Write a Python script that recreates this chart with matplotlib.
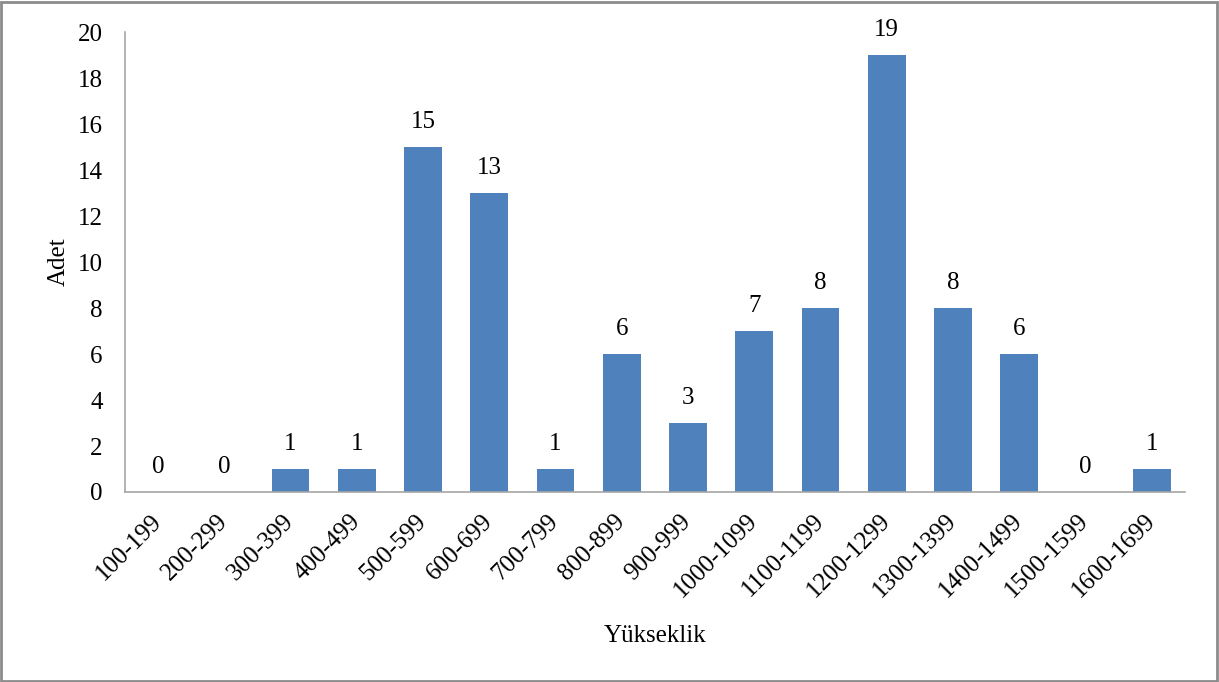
import numpy as np
import matplotlib.pyplot as plt
import matplotlib.transforms as mtransforms
from matplotlib.patches import Rectangle

categories = ['100-199', '200-299', '300-399', '400-499', '500-599', '600-699',
              '700-799', '800-899', '900-999', '1000-1099', '1100-1199',
              '1200-1299', '1300-1399', '1400-1499', '1500-1599', '1600-1699']
counts = [0, 0, 1, 1, 15, 13, 1, 6, 3, 7, 8, 19, 8, 6, 0, 1]

plt.rcParams['font.family'] = ['Liberation Serif', 'DejaVu Serif']
plt.rcParams['font.size'] = 18

fig = plt.figure(figsize=(12.19, 6.82), dpi=100)
ax = fig.add_axes([0.1025, 0.2786, 0.8695, 0.6744])

x = np.arange(len(categories))
bars = ax.bar(x, counts, width=0.57, color='#4F81BD')
ax.bar_label(bars, labels=[str(c) for c in counts], padding=10, fontsize=18)

ax.set_xlim(-0.5, len(categories) - 0.5)
ax.set_ylim(0, 20)
ax.set_yticks(np.arange(0, 21, 2))
ax.set_xticks(x)
ax.set_xticklabels(categories, rotation=45, ha='right', rotation_mode='anchor')
ax.tick_params(axis='both', length=0, labelsize=18)
ax.tick_params(axis='y', pad=16)
ax.tick_params(axis='x', pad=13)

# shift rotated labels so their upper end sits under the bar centre
shift = mtransforms.ScaledTranslation(-0.08, 0, fig.dpi_scale_trans)
for lbl in ax.get_xticklabels():
    lbl.set_transform(lbl.get_transform() + shift)

for side in ['top', 'right']:
    ax.spines[side].set_visible(False)
for side in ['left', 'bottom']:
    ax.spines[side].set_color('#A6A6A6')
    ax.spines[side].set_linewidth(1.2)

ax.set_ylabel('Adet', fontsize=18, labelpad=6)
ax.set_xlabel('Yükseklik', fontsize=18)
ax.xaxis.set_label_coords(0.5, -0.29)

# outer chart border
fig.patches.append(Rectangle((0.001, 0.002), 0.997, 0.995, transform=fig.transFigure,
                             fill=False, edgecolor='#8C8C8C', linewidth=2))

fig.savefig('out.png', dpi=100)
